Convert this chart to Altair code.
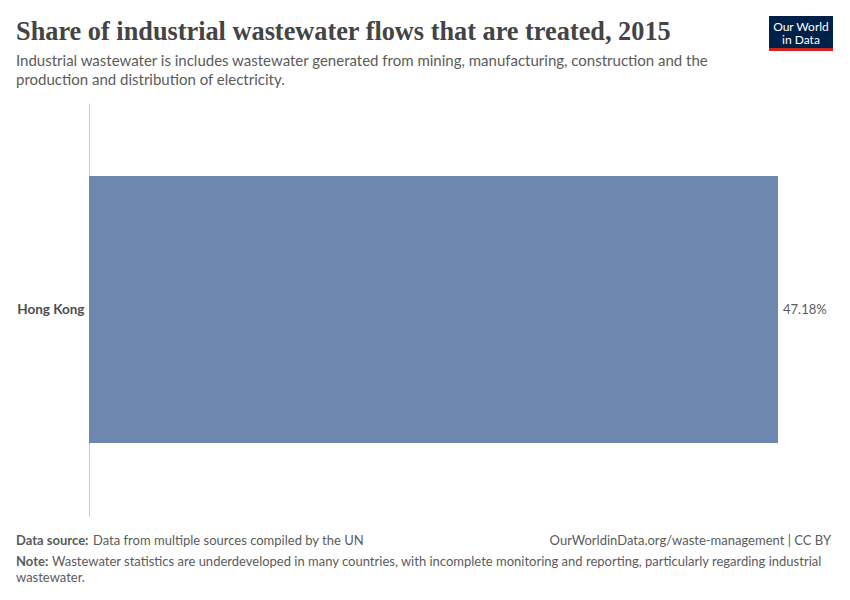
import altair as alt
import pandas as pd

entities = ["Hong Kong"]
values = [47.18]
labels = ["47.18%"]

title = "Share of industrial wastewater flows that are treated, 2015"
subtitle = [
    "Industrial wastewater is includes wastewater generated from mining, manufacturing, construction and the",
    "production and distribution of electricity.",
]
source_bold = "Data source:"
source_text = "Data from multiple sources compiled by the UN"
url_text = "OurWorldinData.org/waste-management | CC BY"
note_bold = "Note:"
note_lines = [
    "Wastewater statistics are underdeveloped in many countries, with incomplete monitoring and reporting, particularly regarding industrial",
    "wastewater.",
]
logo_lines = ["Our World", "in Data"]

df = pd.DataFrame({"entity": entities, "value": values, "label": labels})
one = pd.DataFrame({"d": [0]})

GREY = "#5b5b5b"
FONT = "Lato"

base = alt.Chart(df)
y_enc = alt.Y(
    "entity:N",
    title=None,
    scale=alt.Scale(paddingInner=0.215, paddingOuter=0.215),
    axis=alt.Axis(
        labelFont=FONT, labelFontSize=13.5, labelFontWeight="bold", labelColor="#4d4d4d",
        ticks=False, labelPadding=5, domainColor="#cccccc", domainWidth=1,
    ),
)
x_enc = alt.X("value:Q", title=None, scale=alt.Scale(domain=[0, 47.18], nice=False, zero=True), axis=None)

bars = base.mark_bar(color="#6D87AE").encode(x=x_enc, y=y_enc)
vals = base.mark_text(align="left", baseline="middle", dx=5, font=FONT, fontSize=13, color=GREY).encode(
    x=x_enc, y=alt.Y("entity:N"), text="label:N"
)


def txt(s, x, y, size=13, weight="normal", font=FONT, color=GREY, align="left", baseline="alphabetic"):
    return alt.Chart(one).mark_text(
        align=align, baseline=baseline, font=font, fontSize=size, fontWeight=weight, color=color
    ).encode(x=alt.value(x), y=alt.value(y), text=alt.value(s))


def rect(x, x2, y, y2, color):
    return alt.Chart(one).mark_rect(color=color).encode(
        x=alt.value(x), x2=alt.value(x2), y=alt.value(y), y2=alt.value(y2)
    )


L = -73
layers = [
    bars,
    vals,
    txt(title, L, -63, size=26.3, weight="bold", font="Liberation Serif", color="#444444"),
    txt(subtitle[0], L, -37, size=15),
    txt(subtitle[1], L, -18, size=15),
    txt(source_bold, L, 442, weight="bold"),
    txt(source_text, L + 77, 442),
    txt(url_text, 742, 442, align="right"),
    txt(note_bold, L, 463, weight="bold"),
    txt(note_lines[0], L + 36, 463),
    txt(note_lines[1], L, 479),
    rect(680, 744, -87, -52, "#002147"),
    rect(680, 744, -55, -52, "#ce261e"),
    txt(logo_lines[0], 712, -69, size=12, color="white", align="center", baseline="bottom"),
    txt(logo_lines[1], 712, -68, size=12, color="white", align="center", baseline="top"),
]

chart = alt.layer(*layers).properties(
    width=689,
    height=413,
    autosize=alt.AutoSizeParams(type="none"),
    padding={"left": 81, "top": 95, "right": 64, "bottom": 76},
    background="white",
).configure_view(stroke=None)

chart.save("out.html", embed_options={"renderer": "svg", "actions": False})
